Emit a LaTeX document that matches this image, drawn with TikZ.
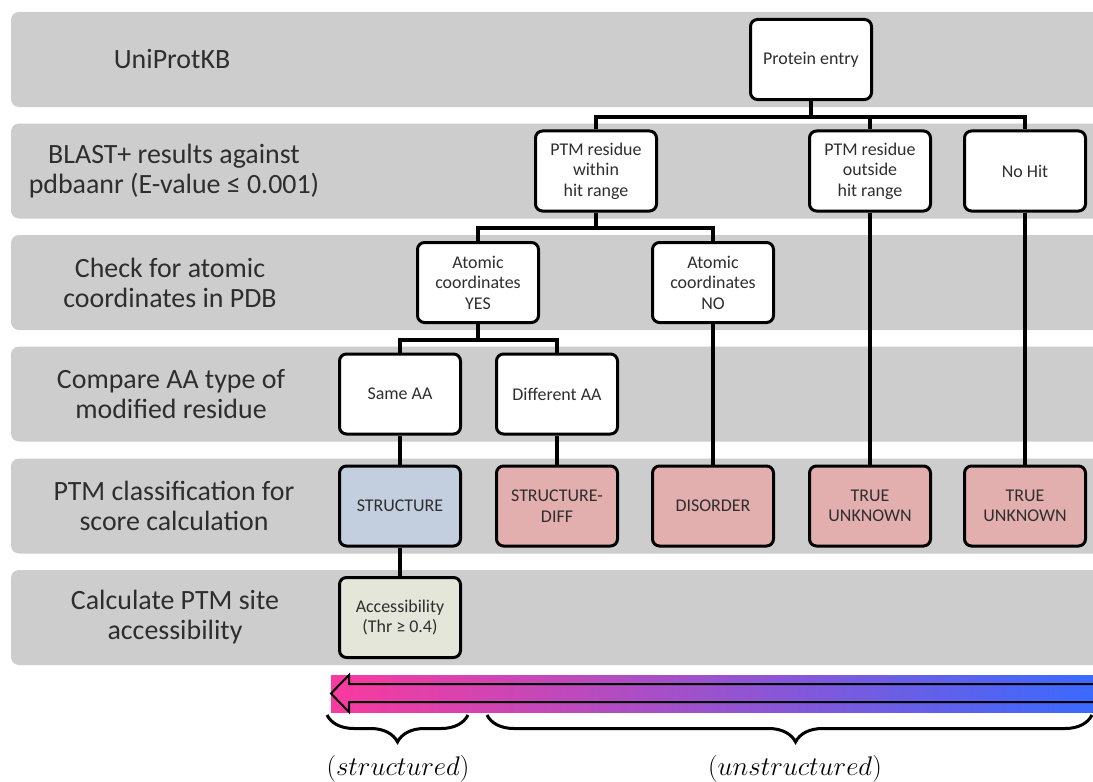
\documentclass[tikz,border=0pt]{standalone}
\usepackage{fix-cm}
\usepackage{fontspec}
\setmainfont{Carlito}
\usepackage{tikz}
\usepackage{xcolor}
\definecolor{BandGray}{HTML}{CDCDCD}
\definecolor{StructBlue}{HTML}{C3CEDF}
\definecolor{UnkPink}{HTML}{E3AEAE}
\definecolor{AccGreen}{HTML}{E3E6D9}
\definecolor{TxtGray}{HTML}{2E2E2E}
\definecolor{ArrPink}{HTML}{FA3A9E}
\definecolor{ArrBlue}{HTML}{3A6AFF}
\usetikzlibrary{decorations.pathreplacing}

\begin{document}
\begin{tikzpicture}[x=1bp, y=-1bp,
  band/.style={fill=BandGray, rounded corners=8bp},
  rowlabel/.style={align=center, text=TxtGray, font=\fontsize{28}{30}\selectfont},
  stepbox/.style={draw, line width=3bp, rounded corners=7bp, fill=white, text=TxtGray,
    minimum width=121bp, minimum height=80bp, inner sep=2bp, align=center,
    font=\fontsize{18}{20.5}\selectfont},
  link/.style={line width=3.4bp},
  bracelbl/.style={font=\fontsize{27}{30}\selectfont}]
\useasboundingbox (0, 0) rectangle (1093, 782);
\clip (0, 0) rectangle (1093, 782);

% grey rows
\fill[band] (11, 12) rectangle (1110, 107);
\fill[band] (11, 123.5) rectangle (1110, 218.5);
\fill[band] (11, 235) rectangle (1110, 330);
\fill[band] (11, 346.5) rectangle (1110, 441.5);
\fill[band] (11, 458.5) rectangle (1110, 553.5);
\fill[band] (11, 570) rectangle (1110, 665);

\node[rowlabel] (lblUniprot) at (172, 59.5) {UniProtKB};
\node[rowlabel] (lblBlast) at (174, 171) {BLAST+ results against\\pdbaanr (E-value ≤ 0.001)};
\node[rowlabel] (lblCoords) at (170, 282.5) {Check for atomic\\coordinates in PDB};
\node[rowlabel] (lblCompare) at (171, 394) {Compare AA type of\\modified residue};
\node[rowlabel] (lblClass) at (174, 506) {PTM classification for\\score calculation};
\node[rowlabel] (lblAccess) at (175, 617.5) {Calculate PTM site\\accessibility};

% decision tree
\node[stepbox] (protein) at (811, 59.5) {Protein entry};
\node[stepbox] (within) at (596, 171) {PTM residue\\within\\hit range};
\node[stepbox] (outside) at (870, 171) {PTM residue\\outside\\hit range};
\node[stepbox] (nohit) at (1025, 171) {No Hit};
\node[stepbox] (coordyes) at (478, 282.5) {Atomic\\coordinates\\YES};
\node[stepbox] (coordno) at (713, 282.5) {Atomic\\coordinates\\NO};
\node[stepbox] (sameaa) at (400, 394) {Same AA};
\node[stepbox] (diffaa) at (557, 394) {Different AA};
\node[stepbox, fill=StructBlue] (structure) at (400, 506) {STRUCTURE};
\node[stepbox, fill=UnkPink] (structdiff) at (557, 506) {STRUCTURE-\\DIFF};
\node[stepbox, fill=UnkPink] (disorder) at (713, 506) {DISORDER};
\node[stepbox, fill=UnkPink] (unknownA) at (870, 506) {TRUE\\UNKNOWN};
\node[stepbox, fill=UnkPink] (unknownB) at (1025, 506) {TRUE\\UNKNOWN};
\node[stepbox, fill=AccGreen] (access) at (400, 617.5) {Accessibility\\(Thr ≥ 0.4)};

\draw[link] (protein.south) -- ++(0, 16) coordinate (protsplit);
\draw[link] (protsplit) -| (within.north);
\draw[link] (protsplit) -| (outside.north);
\draw[link] (protsplit) -| (nohit.north);

\draw[link] (within.south) -- ++(0, 15.5) coordinate (withinsplit);
\draw[link] (withinsplit) -| (coordyes.north);
\draw[link] (withinsplit) -| (coordno.north);

\draw[link] (coordyes.south) -- ++(0, 16) coordinate (yessplit);
\draw[link] (yessplit) -| (sameaa.north);
\draw[link] (yessplit) -| (diffaa.north);

\draw[link] (sameaa) -- (structure);
\draw[link] (diffaa) -- (structdiff);
\draw[link] (coordno) -- (disorder);
\draw[link] (outside) -- (unknownA);
\draw[link] (nohit) -- (unknownB);
\draw[link] (structure) -- (access);

% structured <- unstructured bar
\shade[left color=ArrPink, right color=ArrBlue] (331, 675) rectangle (1093, 712);
\draw[line width=2bp] (1100, 684) -- (349, 684) -- (349, 675) -- (331, 693.5)
  -- (349, 712) -- (349, 702) -- (1100, 702);

\draw[line width=3bp, decorate, decoration={brace, mirror, amplitude=27bp}]
  (327, 715) -- (468, 715);
\draw[line width=3bp, decorate, decoration={brace, mirror, amplitude=27bp, aspect=0.51}]
  (487, 715) -- (1092, 715);
\node[bracelbl] (structured) at (398, 769) {$(structured)$};
\node[bracelbl] (unstructured) at (795, 769) {$(unstructured)$};
\end{tikzpicture}
\end{document}
